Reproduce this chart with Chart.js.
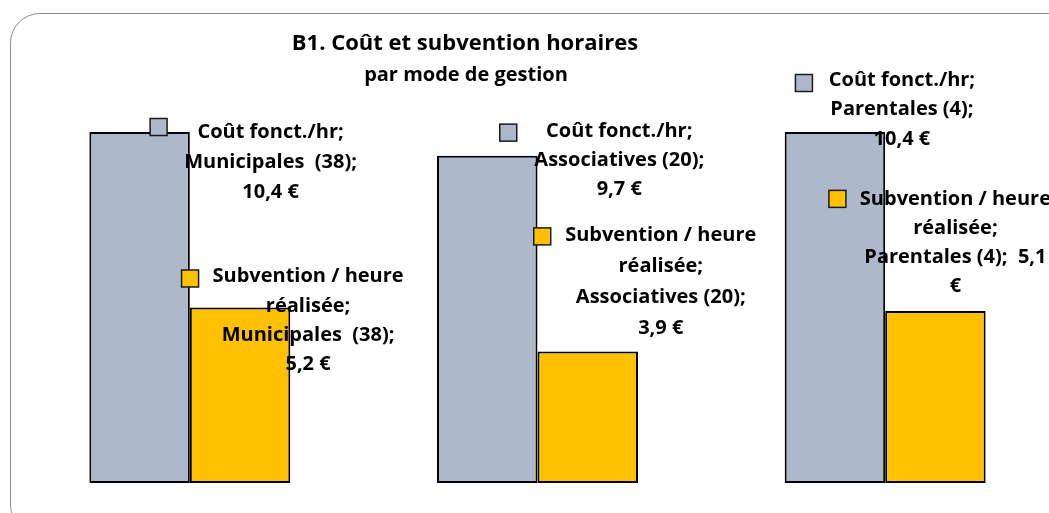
<!DOCTYPE html>
<html>
<head>
<meta charset="utf-8">
<script src="https://cdn.jsdelivr.net/npm/chart.js@4"></script>
<style>
  html, body { margin: 0; padding: 0; background: #fff; overflow: hidden; width: 1049px; height: 513px; }
  #frame { position: absolute; left: 10px; top: 13px; width: 1070px; height: 520px; border: 1px solid #8e8e8e; border-radius: 30px; }
  #wrap { position: absolute; left: 0; top: 0; width: 1060px; height: 513px; }
</style>
</head>
<body>
<div id="frame"></div>
<div id="wrap"><canvas id="chart"></canvas></div>
<script>
const titleText = 'B1. Coût et subvention horaires';
const subtitleText = 'par mode de gestion';

const categories = ['Municipales  (38)', 'Associatives (20)', 'Parentales (4)'];
const seriesNames = ['Coût fonct./hr', 'Subvention / heure réalisée'];
// nom de série découpé comme dans l'original
const seriesLabelLines = [['Coût fonct./hr;'], ['Subvention / heure', 'réalisée;']];
const coutValues = [10.4, 9.7, 10.4];
const subventionValues = [5.2, 3.9, 5.1];

const colors = ['#ADB9CA', '#FFC000'];
const FONT = 'bold 20px "Open Sans", sans-serif';

// position des étiquettes (clé + texte) par rapport au haut de chaque barre
const labelPlacement = [
    [
        { kx: 19, ky: -5, tx: 131, ty: 0, lh: 30 },
        { kx: 21, ky: -23, tx: 132, ty: -24, lh: 29 },
        { kx: -31, ky: -49, tx: 67, ty: -52, lh: 29.7 }
    ],
    [
        { kx: -50, ky: -29, tx: 68, ty: -31, lh: 29.3 },
        { kx: -45.5, ky: -115, tx: 73, ty: -116, lh: 31 },
        { kx: -98, ky: -112, tx: 20, ty: -112, lh: 29, inline: true }
    ]
];

const fmt = v => v.toFixed(1).replace('.', ',');

const labelsPlugin = {
    id: 'excelLabels',
    afterDatasetsDraw(chart) {
        const ctx = chart.ctx;
        ctx.save();
        ctx.font = FONT;
        ctx.fillStyle = '#000';
        ctx.textAlign = 'center';
        ctx.textBaseline = 'middle';
        chart.data.datasets.forEach((ds, di) => {
            chart.getDatasetMeta(di).data.forEach((bar, i) => {
                const p = labelPlacement[di][i];
                const num = fmt(ds.data[i]);
                let lines = seriesLabelLines[di].slice();
                if (p.inline) {
                    lines.push(categories[i] + ';  ' + num, '€');
                } else {
                    lines.push(categories[i] + ';', num + ' €');
                }
                // clé de légende
                const ks = 17;
                ctx.fillStyle = colors[di];
                ctx.fillRect(bar.x + p.kx - ks / 2, bar.y + p.ky - ks / 2, ks, ks);
                ctx.lineWidth = 1.5;
                ctx.strokeStyle = '#1a1a1a';
                ctx.strokeRect(bar.x + p.kx - ks / 2, bar.y + p.ky - ks / 2, ks, ks);
                ctx.fillStyle = '#000';
                lines.forEach((ln, k) => {
                    ctx.fillText(ln, bar.x + p.tx, bar.y + p.ty + k * p.lh);
                });
            });
        });
        // titre
        ctx.font = 'bold 22px "Open Sans", sans-serif';
        ctx.fillText(titleText, 465, 44);
        ctx.font = 'bold 20px "Open Sans", sans-serif';
        ctx.fillText(subtitleText, 466, 75);
        ctx.restore();
    }
};

new Chart(document.getElementById('chart'), {
    type: 'bar',
    data: {
        labels: categories,
        datasets: [
            {
                label: seriesNames[0],
                data: coutValues,
                backgroundColor: colors[0],
                borderColor: '#000',
                borderWidth: 2,
                borderSkipped: false
            },
            {
                label: seriesNames[1],
                data: subventionValues,
                backgroundColor: colors[1],
                borderColor: '#000',
                borderWidth: 2,
                borderSkipped: false
            }
        ]
    },
    options: {
        responsive: true,
        maintainAspectRatio: false,
        animation: false,
        layout: { padding: { left: 16, right: 1, top: 78, bottom: 30 } },
        categoryPercentage: 0.578,
        barPercentage: 1,
        scales: {
            x: { display: false },
            y: { display: false, min: 0, max: 12 }
        },
        plugins: {
            legend: { display: false },
            tooltip: { enabled: false }
        }
    },
    plugins: [labelsPlugin]
});
</script>
</body>
</html>
